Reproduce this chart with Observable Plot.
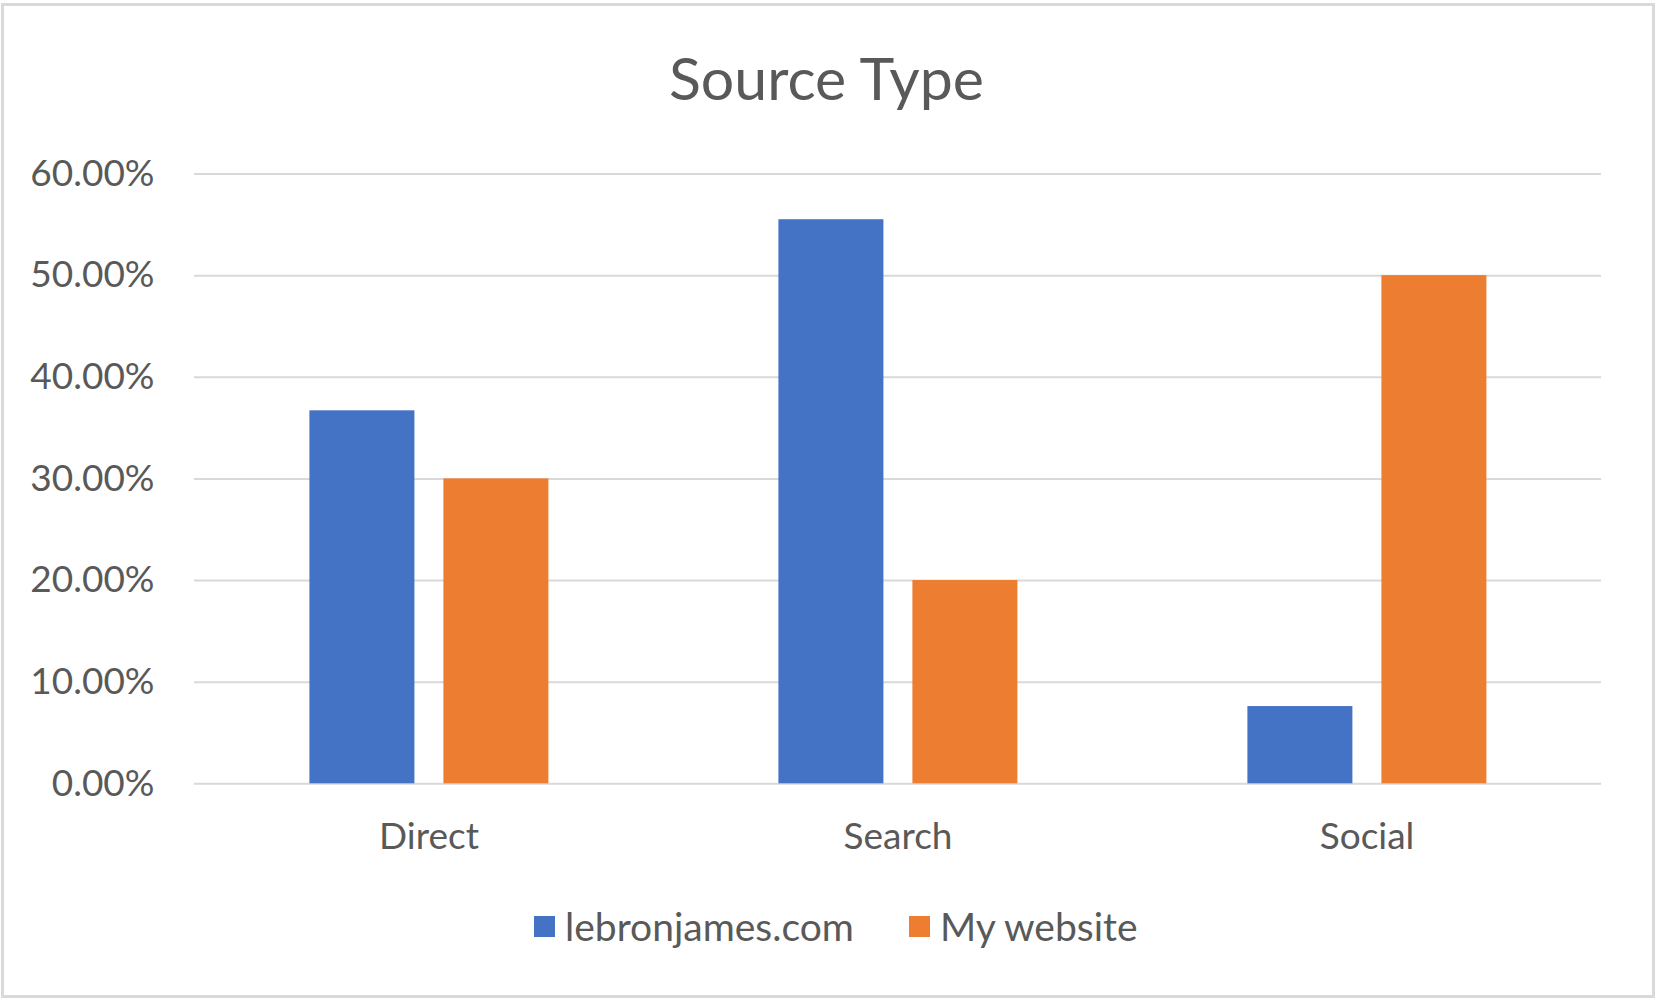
<!DOCTYPE html>
<html>
<head>
<meta charset="utf-8">
<script src="https://cdn.jsdelivr.net/npm/d3@7"></script>
<script src="https://cdn.jsdelivr.net/npm/@observablehq/plot@0.6"></script>
<style>
  html, body { margin: 0; padding: 0; background: #fff; }
  body { width: 1659px; height: 1003px; position: relative; overflow: hidden; font-family: Lato, "Open Sans", sans-serif; color: #595959; }
  #frame { position: absolute; left: 1px; top: 3px; width: 1654px; height: 995px; box-sizing: border-box; border: 3px solid #d9d9d9; }
  #title { position: absolute; left: 0; width: 1653px; top: 48px; text-align: center; font-size: 59px; line-height: 1; }
  #chart { position: absolute; left: 0; top: 130px; }
  #legend { position: absolute; left: 534px; top: 907px; display: flex; align-items: center; font-size: 39px; line-height: 1; }
  .item { display: flex; align-items: center; }
  .sw { width: 21px; height: 21px; margin-right: 10px; }
  .item + .item { margin-left: 55px; }
</style>
</head>
<body>
<div id="frame"></div>
<div id="title">Source Type</div>
<div id="chart"></div>
<div id="legend"></div>
<script>
const categories = ["Direct", "Search", "Social"];
const seriesNames = ["lebronjames.com", "My website"];
const seriesColors = ["#4472C4", "#ED7D31"];
const lebronValues = [0.367, 0.555, 0.076];
const myWebsiteValues = [0.30, 0.20, 0.50];
const yTicks = [0, 0.1, 0.2, 0.3, 0.4, 0.5, 0.6];

const data = [];
categories.forEach((c, i) => {
  data.push({category: c, series: seriesNames[0], value: lebronValues[i]});
  data.push({category: c, series: seriesNames[1], value: myWebsiteValues[i]});
});

const fmt = d3.format(".2%");

const plot = Plot.plot({
  width: 1659,
  height: 730,
  marginLeft: 193.6,
  marginRight: 57,
  marginTop: 43.5,
  marginBottom: 76.7,
  style: {fontFamily: "Lato, 'Open Sans', sans-serif", color: "#595959", background: "transparent"},
  fx: {domain: categories, padding: 0, label: null},
  x: {domain: seriesNames, paddingInner: 0.22, paddingOuter: 0.857, axis: null},
  y: {domain: [0, 0.6], axis: null},
  color: {domain: seriesNames, range: seriesColors},
  marks: [
    Plot.gridY(yTicks, {stroke: "#d9d9d9", strokeOpacity: 1, strokeWidth: 2}),
    Plot.axisY(yTicks, {tickSize: 0, tickPadding: 40, tickFormat: fmt, label: null, fontSize: 37, fill: "#595959"}),
    Plot.axisFx({anchor: "bottom", tickSize: 0, tickPadding: 39, label: null, fontSize: 37, fill: "#595959"}),
    Plot.barY(data, {fx: "category", x: "series", y: "value", fill: "series"})
  ]
});
document.getElementById("chart").appendChild(plot);

const legend = document.getElementById("legend");
seriesNames.forEach((name, i) => {
  const item = document.createElement("div");
  item.className = "item";
  const sw = document.createElement("div");
  sw.className = "sw";
  sw.style.background = seriesColors[i];
  const label = document.createElement("span");
  label.textContent = name;
  item.appendChild(sw);
  item.appendChild(label);
  legend.appendChild(item);
});
</script>
</body>
</html>
